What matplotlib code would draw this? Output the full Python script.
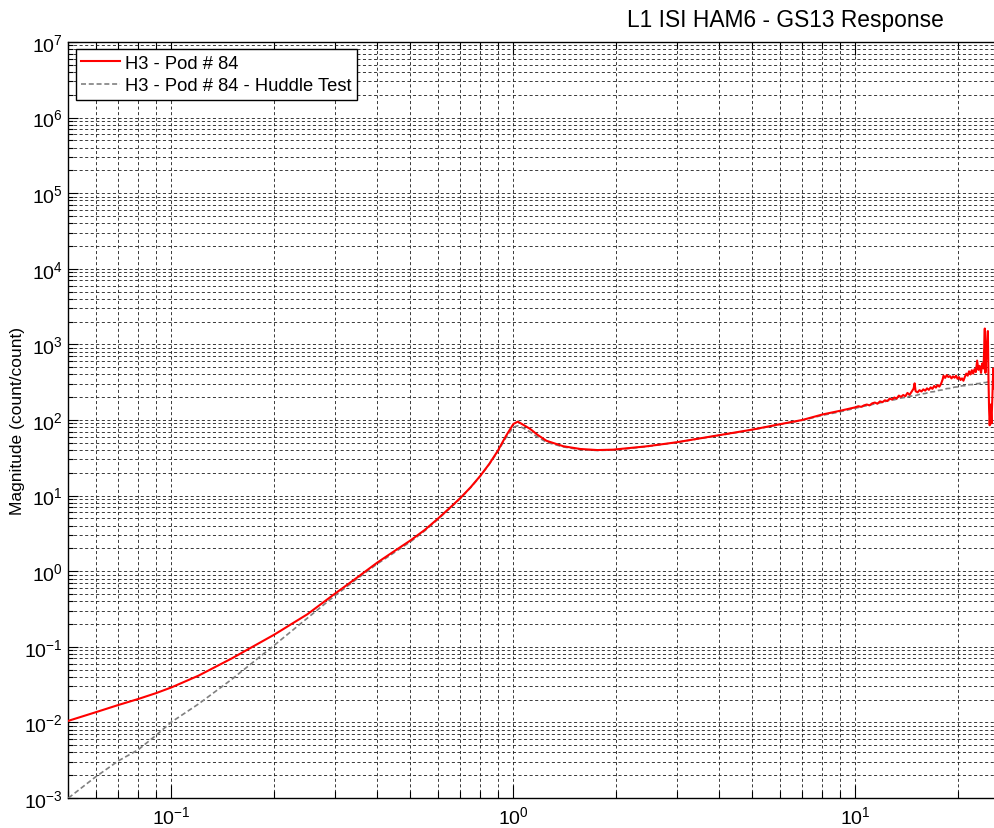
import matplotlib
matplotlib.use("Agg")
import matplotlib.pyplot as plt
from matplotlib.ticker import LogLocator, LogFormatterSciNotation, NullFormatter

plt.rcParams['font.family'] = ['Liberation Sans', 'DejaVu Sans']
plt.rcParams['mathtext.fontset'] = 'custom'
plt.rcParams['mathtext.rm'] = 'Liberation Sans'
plt.rcParams['mathtext.it'] = 'Liberation Sans:italic'
plt.rcParams['mathtext.default'] = 'regular'
plt.rcParams['lines.scale_dashes'] = False
plt.rcParams['axes.unicode_minus'] = False

# --- GS13 response, H3 pod #84 (Hz, count/count) ---
pod_freq = [0.05, 0.06, 0.07, 0.08, 0.09, 0.10, 0.12, 0.15, 0.20, 0.25, 0.30, 0.35,
            0.40, 0.45, 0.50, 0.55, 0.60, 0.65, 0.70, 0.75, 0.80, 0.85, 0.90, 0.95,
            1.00, 1.03, 1.07, 1.12, 1.18, 1.25, 1.40, 1.57, 1.76, 1.96, 2.46, 3.0,
            4.0, 5.0, 6.0, 7.0, 8.0, 9.0,
            10.0, 10.2, 10.4, 10.6, 10.8, 11.0, 11.2, 11.4, 11.6, 11.8, 12.0, 12.2,
            12.4, 12.6, 12.8, 13.0, 13.2, 13.4, 13.6, 13.8, 14.0, 14.2, 14.4, 14.6,
            14.8, 14.9, 15.0, 15.2, 15.4, 15.6, 15.8, 16.0, 16.2, 16.4, 16.6, 16.8,
            17.0, 17.2, 17.4, 17.6, 17.8, 18.0, 18.1, 18.3, 18.5, 18.7, 18.9, 19.1,
            19.3, 19.5, 19.7, 19.9, 20.1, 20.3, 20.5, 20.7, 20.9, 21.1, 21.3, 21.5,
            21.7, 21.9, 22.1, 22.3, 22.5, 22.7, 22.9, 23.1, 23.3, 23.5, 23.7, 23.9,
            24.0, 24.2, 24.4, 24.5, 24.6, 24.7, 24.85, 25.0, 25.15, 25.3, 25.45, 25.6]
pod_mag = [0.0105, 0.0136, 0.017, 0.0204, 0.0243, 0.029, 0.0415, 0.070, 0.145, 0.27, 0.50, 0.83,
           1.30, 1.86, 2.55, 3.5, 4.9, 6.8, 9.3, 12.9, 18.2, 26.2, 39.0, 60.8,
           88.6, 95.0, 86.0, 76.0, 63.0, 53.0, 44.9, 41.3, 40.0, 40.5, 44.9, 50.7,
           63.0, 74.6, 87.7, 100.0, 118.0, 132.0,
           147, 152, 149, 156, 160, 156, 166, 170, 164, 176, 172, 182,
           178, 192, 186, 198, 192, 210, 202, 214, 206, 228, 215, 236,
           260, 305, 240, 232, 248, 238, 254, 244, 262, 250, 270, 258,
           282, 268, 290, 276, 300, 345, 385, 360, 392, 370, 380, 355,
           378, 362, 385, 350, 368, 338, 355, 330, 372, 410, 385, 440,
           400, 455, 410, 470, 430, 610, 460, 520, 420, 560, 480, 1620,
           420, 900, 1500, 350, 140, 85, 160, 90, 200, 480, 260, 330]

# --- Huddle test of the same pod ---
huddle_freq = [0.05, 0.06, 0.07, 0.08, 0.09, 0.10, 0.12, 0.15, 0.20, 0.25, 0.30, 0.35,
               0.40, 0.45, 0.50, 0.55, 0.60, 0.65, 0.70, 0.75, 0.80, 0.85, 0.90, 0.95,
               1.00, 1.03, 1.07, 1.12, 1.18, 1.25, 1.40, 1.57, 1.76, 1.96, 2.46, 3.0,
               4.0, 5.0, 6.0, 7.0, 8.0, 9.0,
               10.0, 10.5, 11.0, 11.5, 12.0, 12.5, 13.0, 13.5, 14.0, 14.5, 15.0, 15.5,
               16.0, 16.5, 17.0, 17.5, 18.0, 18.5, 19.0, 19.5, 20.0, 20.5, 21.0, 21.5,
               22.0, 22.5, 23.0, 23.5, 24.0, 24.5, 25.0, 25.6]
huddle_mag = [0.001, 0.0019, 0.0031, 0.00435, 0.0067, 0.0101, 0.0175, 0.037, 0.105, 0.24, 0.47, 0.80,
              1.25, 1.78, 2.45, 3.4, 4.8, 6.7, 9.2, 12.8, 18.0, 26.0, 38.0, 58.0,
              80.0, 84.0, 78.0, 69.0, 59.0, 50.7, 44.0, 40.5, 39.5, 40.0, 44.5, 50.5,
              62.5, 74.0, 87.0, 99.0, 115.0, 128.0,
              143, 151, 157, 165, 171, 181, 185, 194, 199, 207, 210, 220,
              224, 234, 237, 246, 250, 260, 262, 272, 274, 283, 284, 293,
              294, 302, 303, 312, 312, 320, 319, 327]

x_limits = (0.05, 25.6)
y_limits = (1e-3, 1e7)

fig = plt.figure(figsize=(9.95, 8.29), dpi=100)
ax = fig.add_axes([0.0688, 0.0362, 0.9312, 0.9120])

ax.plot(huddle_freq, huddle_mag, color='#808080', lw=1.2,
        dashes=(3.6, 2.0), label='H3 - Pod # 84 - Huddle Test', zorder=3)
ax.plot(pod_freq, pod_mag, color='#ff0000', lw=1.5,
        label='H3 - Pod # 84', zorder=4)

ax.set_xscale('log')
ax.set_yscale('log')
ax.set_xlim(*x_limits)
ax.set_ylim(*y_limits)

ax.xaxis.set_major_locator(LogLocator(base=10, numticks=20))
ax.xaxis.set_minor_locator(LogLocator(base=10, subs=range(2, 10), numticks=50))
ax.yaxis.set_major_locator(LogLocator(base=10, numticks=20))
ax.yaxis.set_minor_locator(LogLocator(base=10, subs=range(2, 10), numticks=200))
ax.xaxis.set_major_formatter(LogFormatterSciNotation())
ax.yaxis.set_major_formatter(LogFormatterSciNotation())
ax.xaxis.set_minor_formatter(NullFormatter())
ax.yaxis.set_minor_formatter(NullFormatter())

ax.grid(True, which='both', color='0.1', lw=0.6, dashes=(2.2, 1.8))
ax.set_axisbelow(True)

ax.tick_params(axis='both', which='both', direction='in', top=True, right=False,
               color='black', width=0.8)
ax.tick_params(axis='x', which='major', length=9.5, pad=5, labelsize=14)
ax.tick_params(axis='x', which='minor', length=5)
ax.tick_params(axis='y', which='major', length=7, pad=4, labelsize=14)
ax.tick_params(axis='y', which='minor', length=3.5)

for side in ('left', 'bottom', 'top'):
    ax.spines[side].set_linewidth(1.0)
ax.spines['right'].set_visible(False)

ax.set_ylabel('Magnitude (count/count)', fontsize=12.5)
ax.yaxis.set_label_coords(-0.047, 0.5)

handles, labels = ax.get_legend_handles_labels()
leg = ax.legend(handles[::-1], labels[::-1], loc='upper left', fontsize=13.2,
                frameon=True, fancybox=False, edgecolor='black', framealpha=1.0,
                borderpad=0.3, labelspacing=0.3, handlelength=2.1,
                handletextpad=0.3, borderaxespad=0.4)
leg.get_frame().set_linewidth(1.0)

fig.text(0.789, 0.968, 'L1 ISI HAM6 - GS13 Response', ha='center', va='baseline',
         fontsize=16.4)

fig.savefig('out.png', dpi=100)
